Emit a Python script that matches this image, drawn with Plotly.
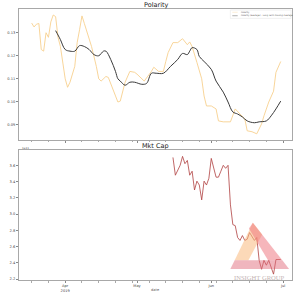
import plotly.graph_objects as go

# ---------------- data ----------------
pol_dates = ["2019-03-18","2019-03-19","2019-03-20","2019-03-21","2019-03-22","2019-03-23","2019-03-24",
             "2019-03-25","2019-03-26","2019-03-27","2019-03-28","2019-03-29","2019-03-30","2019-03-31",
             "2019-04-01","2019-04-02","2019-04-03","2019-04-05","2019-04-06","2019-04-07","2019-04-08",
             "2019-04-09","2019-04-10","2019-04-12","2019-04-14","2019-04-15","2019-04-16","2019-04-18",
             "2019-04-19","2019-04-21","2019-04-23","2019-04-24","2019-04-25","2019-04-26","2019-04-28",
             "2019-04-30","2019-05-01","2019-05-04","2019-05-07","2019-05-08","2019-05-10","2019-05-12",
             "2019-05-13","2019-05-14","2019-05-16","2019-05-18","2019-05-20","2019-05-22","2019-05-23",
             "2019-05-24","2019-05-26","2019-05-28","2019-05-29","2019-05-30","2019-06-01","2019-06-03",
             "2019-06-04","2019-06-06","2019-06-09","2019-06-11","2019-06-13","2019-06-15","2019-06-16",
             "2019-06-18","2019-06-20","2019-06-22","2019-06-23","2019-06-25","2019-06-27","2019-06-28",
             "2019-06-30"]
pol_values = [0.1342,0.1325,0.1337,0.1340,0.1227,0.1220,0.1300,
              0.1280,0.1347,0.1377,0.1370,0.1280,0.1240,0.1170,
              0.1100,0.1063,0.1085,0.1154,0.1257,0.1313,0.1373,
              0.1340,0.1310,0.1240,0.1154,0.1100,0.1090,0.1110,
              0.1106,0.1055,0.0999,0.1003,0.1046,0.1085,0.1132,
              0.1128,0.1120,0.1090,0.1132,0.1150,0.1132,0.1132,
              0.1175,0.1214,0.1257,0.1257,0.1274,0.1248,0.1260,
              0.1240,0.1171,0.1100,0.1025,0.0982,0.0982,0.0969,
              0.0917,0.0913,0.0913,0.0969,0.0947,0.0926,0.0874,
              0.0870,0.0861,0.0904,0.0939,0.0999,0.1046,0.1128,
              0.1175]

avg_dates = ["2019-03-28","2019-03-29","2019-03-30","2019-04-01","2019-04-03","2019-04-05","2019-04-07",
             "2019-04-09","2019-04-11","2019-04-13","2019-04-15","2019-04-17","2019-04-18","2019-04-20",
             "2019-04-22","2019-04-23","2019-04-24","2019-04-26","2019-04-28","2019-04-30","2019-05-03",
             "2019-05-05","2019-05-07","2019-05-09","2019-05-12","2019-05-15","2019-05-18","2019-05-20",
             "2019-05-22","2019-05-23","2019-05-24","2019-05-26","2019-05-27","2019-05-29","2019-06-01",
             "2019-06-03","2019-06-06","2019-06-08","2019-06-10","2019-06-12","2019-06-14","2019-06-16",
             "2019-06-19","2019-06-21","2019-06-24","2019-06-26","2019-06-28","2019-06-30"]
avg_values = [0.1309,0.1290,0.1270,0.1227,0.1220,0.1220,0.1244,
              0.1240,0.1227,0.1205,0.1200,0.1220,0.1220,0.1184,
              0.1132,0.1100,0.1090,0.1072,0.1085,0.1085,0.1076,
              0.1080,0.1124,0.1124,0.1124,0.1154,0.1184,0.1210,
              0.1205,0.1220,0.1235,0.1227,0.1197,0.1175,0.1141,
              0.1090,0.1042,0.0999,0.0956,0.0947,0.0934,0.0917,
              0.0909,0.0913,0.0917,0.0939,0.0969,0.1003]

cap_dates = ["2019-05-16","2019-05-17","2019-05-19","2019-05-20","2019-05-21","2019-05-22","2019-05-23",
             "2019-05-24","2019-05-25","2019-05-26","2019-05-27","2019-05-28","2019-05-29","2019-05-30",
             "2019-05-31","2019-06-01","2019-06-03","2019-06-04","2019-06-05","2019-06-06","2019-06-07",
             "2019-06-08","2019-06-09","2019-06-10","2019-06-11","2019-06-12","2019-06-13","2019-06-14",
             "2019-06-15","2019-06-16","2019-06-17","2019-06-19","2019-06-20","2019-06-21","2019-06-22",
             "2019-06-23","2019-06-24","2019-06-25","2019-06-27","2019-06-28","2019-06-30"]
cap_values_1e11 = [3.697,3.478,3.600,3.710,3.620,3.660,3.478,
                   3.527,3.296,3.405,3.357,3.174,3.405,3.357,
                   3.440,3.685,3.454,3.454,3.527,3.600,3.563,
                   3.600,3.113,2.870,2.857,2.711,2.675,2.735,
                   2.675,2.690,2.772,2.675,2.711,2.430,2.320,
                   2.430,2.370,2.430,2.260,2.440,2.440]

pol_ticks = [0.09, 0.10, 0.11, 0.12, 0.13]
cap_ticks = [2.2, 2.4, 2.6, 2.8, 3.0, 3.2, 3.4, 3.6]
x_tickvals = ["2019-04-01", "2019-05-01", "2019-06-01", "2019-07-01"]
x_ticktext = ["Apr<br>2019", "May", "Jun", "Jul"]

# ---------------- layout helpers (pixel -> paper) ----------------
W, H = 300, 300
ML, MR, MT, MB = 14, 7, 9, 17
PW, PH = W - ML - MR, H - MT - MB


def px(x):
    return (x - ML) / PW


def py(y):
    return (H - MB - y) / PH


fig = go.Figure()
fig.add_trace(go.Scatter(x=pol_dates, y=pol_values, mode="lines", name="Polarity",
                         line=dict(color="#f7d08e", width=0.9), xaxis="x", yaxis="y"))
fig.add_trace(go.Scatter(x=avg_dates, y=avg_values, mode="lines", line_shape="spline",
                         name="Polarity (average) - Long Term moving Average",
                         line=dict(color="#3a3a3a", width=1.0), xaxis="x", yaxis="y"))
fig.add_trace(go.Scatter(x=cap_dates, y=cap_values_1e11, mode="lines", name="Mkt Cap",
                         line=dict(color="#b04040", width=0.8), xaxis="x2", yaxis="y2"))

xr = ["2019-03-12 17:00", "2019-07-04 17:00"]
axis_common = dict(showline=True, mirror=True, linecolor="#a8a8a8", linewidth=1,
                   showgrid=False, zeroline=False, ticks="outside", ticklen=2,
                   tickcolor="#888", tickwidth=0.6,
                   tickfont=dict(size=3.6, color="#444", family="DejaVu Sans"))
minor = dict(ticks="outside", ticklen=1.5, tickcolor="#aaa", dtick=7 * 86400000,
             tick0="2019-03-04", showgrid=False)

fig.update_layout(
    width=W, height=H,
    margin=dict(l=ML, r=MR, t=MT, b=MB),
    paper_bgcolor="white", plot_bgcolor="white",
    showlegend=False,
    xaxis=dict(axis_common, domain=[0, 1], anchor="y", range=xr, type="date",
               tickvals=x_tickvals, ticktext=["", "", "", ""], minor=minor),
    yaxis=dict(axis_common, domain=[py(141), 1], anchor="x", range=[0.0836, 0.1403],
               tickvals=pol_ticks, ticktext=[f"{v:.2f}" for v in pol_ticks]),
    xaxis2=dict(axis_common, domain=[0, 1], anchor="y2", range=xr, type="date",
                tickvals=x_tickvals, ticktext=x_ticktext, minor=minor),
    yaxis2=dict(axis_common, domain=[0, py(152)], anchor="x2", range=[2.188, 3.783],
                tickvals=cap_ticks, ticktext=[f"{v:.1f}" for v in cap_ticks]),
)

ann = []
font_t = dict(family="DejaVu Sans", color="#222")
ann.append(dict(text="Polarity", x=0.5, y=py(5), xref="paper", yref="paper",
                showarrow=False, font=dict(font_t, size=6.5), xanchor="center", yanchor="middle"))
ann.append(dict(text="Mkt Cap", x=0.5, y=py(147.5), xref="paper", yref="paper",
                showarrow=False, font=dict(font_t, size=6.5), xanchor="center", yanchor="middle"))
ann.append(dict(text="1e11", x=px(15), y=py(150), xref="paper", yref="paper",
                showarrow=False, font=dict(font_t, size=2.8, color="#555"), xanchor="left", yanchor="middle"))
ann.append(dict(text="date", x=px(154), y=py(293), xref="paper", yref="paper",
                showarrow=False, font=dict(font_t, size=3.6, color="#555"), xanchor="center", yanchor="middle"))
# legend (manual)
ann.append(dict(text="Polarity", x=px(239), y=py(12.3), xref="paper", yref="paper",
                showarrow=False, font=dict(font_t, size=2.2, color="#555"), xanchor="left", yanchor="middle"))
ann.append(dict(text="Polarity (average) - Long Term moving Average", x=px(239), y=py(15.8),
                xref="paper", yref="paper", showarrow=False,
                font=dict(font_t, size=2.2, color="#555"), xanchor="left", yanchor="middle"))
# watermark text
ann.append(dict(text="INSIGHT GROUP", x=px(260), y=py(280), xref="paper", yref="paper",
                showarrow=False, font=dict(family="Liberation Serif", size=6.6, color="#c4b4b4"),
                xanchor="center", yanchor="middle"))

shapes = []
shapes.append(dict(type="line", xref="paper", yref="paper", x0=px(232), x1=px(237.5),
                   y0=py(12.3), y1=py(12.3), line=dict(color="#f7d08e", width=0.9)))
shapes.append(dict(type="line", xref="paper", yref="paper", x0=px(232), x1=px(237.5),
                   y0=py(15.8), y1=py(15.8), line=dict(color="#3a3a3a", width=1)))
shapes.append(dict(type="rect", xref="paper", yref="paper", x0=px(230), x1=px(292),
                   y0=py(18.5), y1=py(10), line=dict(color="#e6e6e6", width=0.6), fillcolor="rgba(255,255,255,0.6)"))


def poly(pts, color):
    d = "M " + " L ".join(f"{px(a):.5f},{py(b):.5f}" for a, b in pts) + " Z"
    return dict(type="path", xref="paper", yref="paper", path=d, fillcolor=color,
                line=dict(width=0), layer="above")


# logo: triangle with orange left leg, pink right leg and pink base band
shapes.append(poly([(253, 225), (234.4, 263), (248.5, 263), (262.5, 237)], "rgba(250,185,125,0.55)"))
shapes.append(poly([(253, 225), (283.1, 263), (268.5, 263), (249, 231)], "rgba(238,110,120,0.5)"))
shapes.append(poly([(234.4, 263), (283.1, 263), (290, 272), (230, 272)], "rgba(225,110,125,0.5)"))

fig.update_layout(annotations=ann, shapes=shapes)
fig.write_html("out.html")
